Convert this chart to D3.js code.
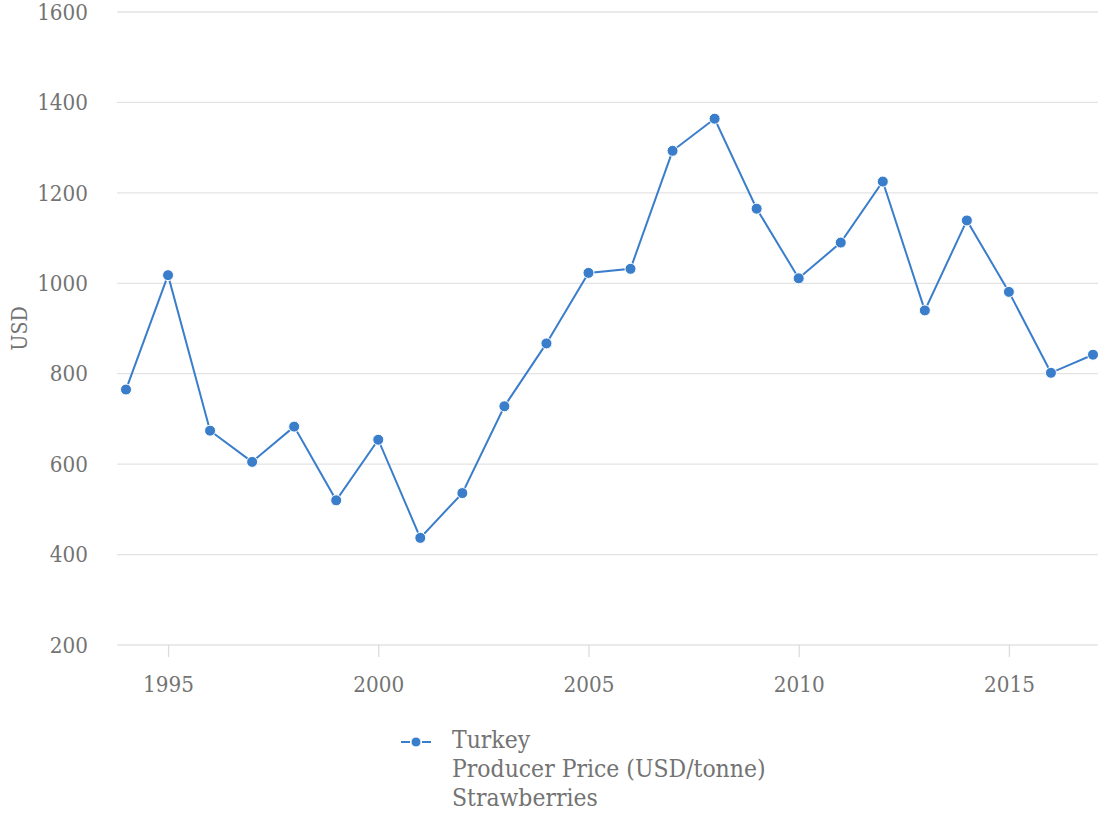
<!DOCTYPE html>
<html>
<head>
<meta charset="utf-8">
<script src="https://cdn.jsdelivr.net/npm/d3@7"></script>
<style>
  body { margin: 0; background: #fff; }
  text { font-family: "DejaVu Serif", serif; fill: #737373; }
</style>
</head>
<body>
<svg width="1098" height="817"></svg>
<script>
const years = d3.range(1994, 2018);
const prices = [765, 1018, 674, 605, 683, 520, 654, 437, 536, 728, 867, 1023,
  1032, 1293, 1364, 1165, 1011, 1090, 1225, 940, 1139, 981, 802, 842];
const yTicks = [200, 400, 600, 800, 1000, 1200, 1400, 1600];
const xTicks = [1995, 2000, 2005, 2010, 2015];
const legendLines = ["Turkey", "Producer Price (USD/tonne)", "Strawberries"];

const blue = "#3a7ecb";
const stretch = 1.13; // labels in the original look a bit tall
const svg = d3.select("svg");

const x = d3.scaleLinear().domain([1994, 2017]).range([126, 1093]);
const y = d3.scaleLinear().domain([200, 1600]).range([645, 12]);

// grid lines
svg.append("g")
  .selectAll("line")
  .data(yTicks)
  .enter()
  .append("line")
  .attr("x1", 117)
  .attr("x2", 1098)
  .attr("y1", d => y(d))
  .attr("y2", d => y(d))
  .attr("stroke", "#e3e3e3")
  .attr("stroke-width", 1.3);

// y axis labels
const yAxis = svg.append("g")
  .attr("transform", "translate(88,0)")
  .call(d3.axisLeft(y).tickValues(yTicks).tickFormat(d3.format("d")).tickSize(0).tickPadding(0));
yAxis.select(".domain").remove();
yAxis.selectAll("text")
  .attr("font-size", 20)
  .attr("font-family", "DejaVu Serif")
  .attr("fill", "#737373")
  .attr("transform", "scale(1," + stretch + ")");

// x axis
const xAxis = svg.append("g")
  .attr("transform", "translate(0," + y(200) + ")")
  .call(d3.axisBottom(x).tickValues(xTicks).tickFormat(d3.format("d")).tickSize(12).tickPadding(0));
xAxis.select(".domain").remove();
xAxis.selectAll("line").attr("stroke", "#dcdcdc").attr("stroke-width", 1.3);
xAxis.selectAll("text")
  .attr("font-size", 20)
  .attr("font-family", "DejaVu Serif")
  .attr("fill", "#737373")
  .attr("dy", null)
  .attr("y", 47 / stretch)
  .attr("transform", "scale(1," + stretch + ")");

svg.append("text")
  .attr("transform", "translate(27," + (y(200) + y(1600)) / 2 + ") rotate(-90) scale(1," + stretch + ")")
  .attr("text-anchor", "middle")
  .attr("font-size", 19)
  .text("USD");

// series
const line = d3.line()
  .x((d, i) => x(years[i]))
  .y(d => y(d));

svg.append("path")
  .datum(prices)
  .attr("fill", "none")
  .attr("stroke", blue)
  .attr("stroke-width", 2)
  .attr("d", line);

svg.append("g")
  .selectAll("circle")
  .data(prices)
  .enter()
  .append("circle")
  .attr("cx", (d, i) => x(years[i]))
  .attr("cy", d => y(d))
  .attr("r", 5.5)
  .attr("fill", blue)
  .attr("stroke", "#fff")
  .attr("stroke-width", 1);

// legend
const legend = svg.append("g").attr("transform", "translate(401,742)");
legend.append("line")
  .attr("x1", 0).attr("x2", 30)
  .attr("y1", 0).attr("y2", 0)
  .attr("stroke", blue)
  .attr("stroke-width", 2)
  .attr("stroke-dasharray", "9,12");
legend.append("circle")
  .attr("cx", 15).attr("cy", 0).attr("r", 5)
  .attr("fill", blue)
  .attr("stroke", "#fff");
legend.selectAll("text.item")
  .data(legendLines)
  .enter()
  .append("text")
  .attr("class", "item")
  .attr("x", 51)
  .attr("y", (d, i) => (6 + i * 29) / stretch)
  .attr("transform", "scale(1," + stretch + ")")
  .attr("font-size", 22)
  .text(d => d);
</script>
</body>
</html>
